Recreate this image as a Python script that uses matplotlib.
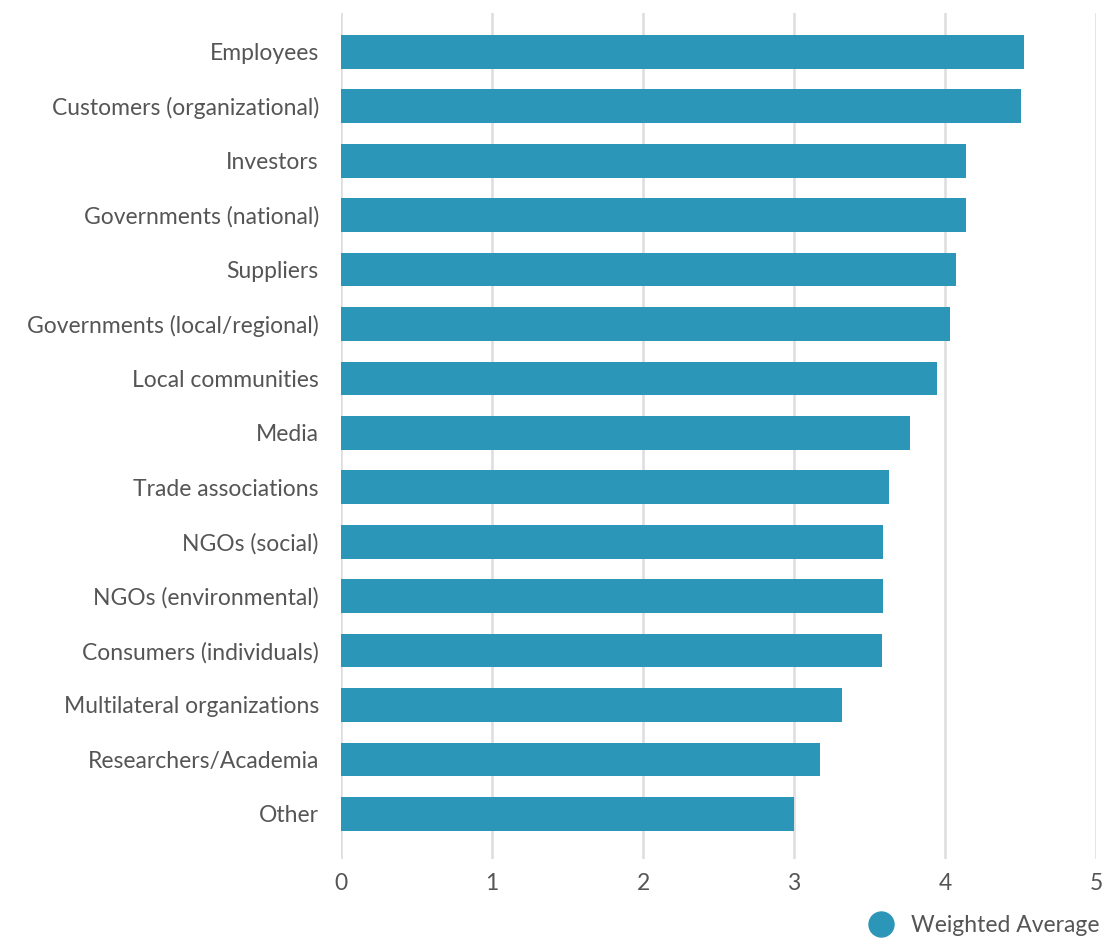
import matplotlib.pyplot as plt
from matplotlib.lines import Line2D

categories = ['Employees', 'Customers (organizational)', 'Investors', 'Governments (national)',
              'Suppliers', 'Governments (local/regional)', 'Local communities', 'Media',
              'Trade associations', 'NGOs (social)', 'NGOs (environmental)',
              'Consumers (individuals)', 'Multilateral organizations', 'Researchers/Academia', 'Other']
weighted_avg = [4.52, 4.50, 4.14, 4.14, 4.07, 4.03, 3.95, 3.77, 3.63, 3.59, 3.59, 3.58, 3.32, 3.17, 3.00]

bar_color = '#2b96b8'
text_color = '#555555'

plt.rcParams['font.family'] = ['Lato', 'DejaVu Sans']

fig = plt.figure(figsize=(11.07, 9.43), dpi=100)
ax = fig.add_axes([341 / 1107, 1 - 859 / 943, (1096 - 341) / 1107, (859 - 13) / 943])

y = list(range(len(categories)))
ax.barh(y, weighted_avg, height=0.62, color=bar_color, zorder=3)

ax.set_xlim(0, 5)
ax.set_ylim(len(categories) - 1 + 0.83, -0.713)
ax.set_xticks([0, 1, 2, 3, 4, 5])
ax.set_yticks(y)
ax.set_yticklabels(categories, va='bottom')

ax.grid(axis='x', color='#dddddd', linewidth=1.8, zorder=0)
for s in ax.spines.values():
    s.set_visible(False)
ax.tick_params(axis='both', length=0, labelsize=16.5, colors=text_color)
ax.tick_params(axis='y', pad=16)
ax.tick_params(axis='x', pad=10)
for lbl in ax.get_yticklabels():
    lbl.set_va('center_baseline')

handle = Line2D([], [], marker='o', linestyle='none', markersize=18,
                markerfacecolor=bar_color, markeredgecolor=bar_color)
fig.legend([handle], ['Weighted Average'], loc='lower right', bbox_to_anchor=(1.012, -0.014),
           frameon=False, fontsize=16.5, labelcolor=text_color, handletextpad=0.3)

fig.savefig('out.png', dpi=100)
